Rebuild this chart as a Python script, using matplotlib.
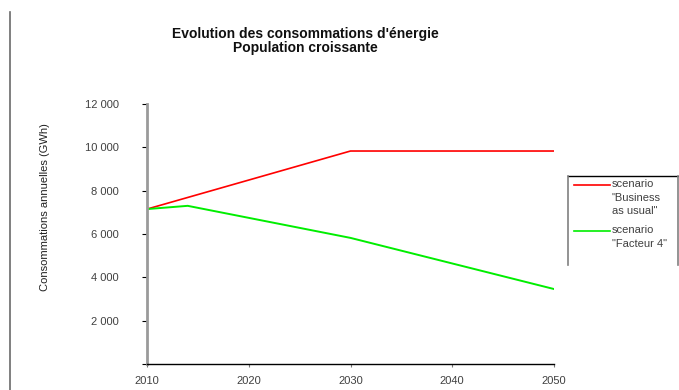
import matplotlib
matplotlib.use("Agg")
import matplotlib.pyplot as plt
from matplotlib.lines import Line2D
from matplotlib.ticker import FuncFormatter

years_bau = [2010, 2030, 2050]
bau = [7150, 9830, 9830]
years_f4 = [2010, 2014, 2030, 2050]
f4 = [7150, 7300, 5820, 3460]
xticks = [2010, 2020, 2030, 2040, 2050]
yticks = [0, 2000, 4000, 6000, 8000, 10000, 12000]
label_bau = 'scenario\n"Business\nas usual"'
label_f4 = 'scenario\n"Facteur 4"'

plt.rcParams['font.family'] = ['Liberation Sans', 'DejaVu Sans']

W, H = 679, 390
fig = plt.figure(figsize=(W / 100, H / 100), dpi=100)
fig.patch.set_facecolor('white')

ax = fig.add_axes([147 / W, 26 / H, 407 / W, 260 / H])
ax.plot(years_bau, bau, color='#ff0000', lw=1.2)
ax.plot(years_f4, f4, color='#00ee00', lw=1.4)

ax.set_xlim(2010, 2050)
ax.set_ylim(0, 12000)
ax.set_xticks(xticks)
ax.set_yticks(yticks)

def fmt(v, pos):
    v = int(round(v))
    if v == 0:
        return ''
    return f"{v:,}".replace(',', ' ')

ax.yaxis.set_major_formatter(FuncFormatter(fmt))
ax.set_xticklabels([str(x) for x in xticks])

for s in ['top', 'right']:
    ax.spines[s].set_visible(False)
ax.spines['left'].set_color('#9a9a9a')
ax.spines['left'].set_linewidth(2.0)
ax.spines['bottom'].set_color('black')
ax.spines['bottom'].set_linewidth(1.0)

ax.tick_params(axis='y', direction='out', length=3.5, width=0.8, color='black',
               labelsize=8, labelcolor='#404040', pad=17)
ax.tick_params(axis='x', direction='out', length=2, width=0.8, color='#777777',
               labelsize=8, labelcolor='#404040', pad=7)

fig.text(45 / W, 1 - 207 / H, 'Consommations annuelles (GWh)', rotation=90,
         ha='center', va='center', fontsize=8, color='#202020')

fig.text(305 / W, 1 - 41 / H, "Evolution des consommations d'énergie\nPopulation croissante",
         ha='center', va='center', fontsize=10, fontweight='bold', linespacing=1.05,
         color='#101010')

# left frame border
fig.add_artist(Line2D([9.5 / W, 9.5 / W], [0, 1 - 12 / H], transform=fig.transFigure,
                      color='#6a6a6a', lw=1.2))

# legend box
lx0, lx1, ly0, ly1 = 568, 678, 176, 265
fig.add_artist(Line2D([lx0 / W, lx1 / W], [1 - ly0 / H, 1 - ly0 / H], transform=fig.transFigure,
                      color='black', lw=1.0))
fig.add_artist(Line2D([lx0 / W, lx0 / W], [1 - ly0 / H, 1 - ly1 / H], transform=fig.transFigure,
                      color='#808080', lw=1.2))
fig.add_artist(Line2D([lx1 / W, lx1 / W], [1 - ly0 / H, 1 - ly1 / H], transform=fig.transFigure,
                      color='#808080', lw=1.2))

for ypix, col, lab in [(185, '#ff0000', label_bau), (231, '#00ee00', label_f4)]:
    fig.add_artist(Line2D([574 / W, 610 / W], [1 - ypix / H, 1 - ypix / H],
                          transform=fig.transFigure, color=col, lw=1.2))
    fig.text(612 / W, 1 - (ypix - 6) / H, lab, ha='left', va='top', fontsize=8,
             color='#404040', linespacing=1.45)

fig.savefig('out.png', dpi=100, facecolor='white')
